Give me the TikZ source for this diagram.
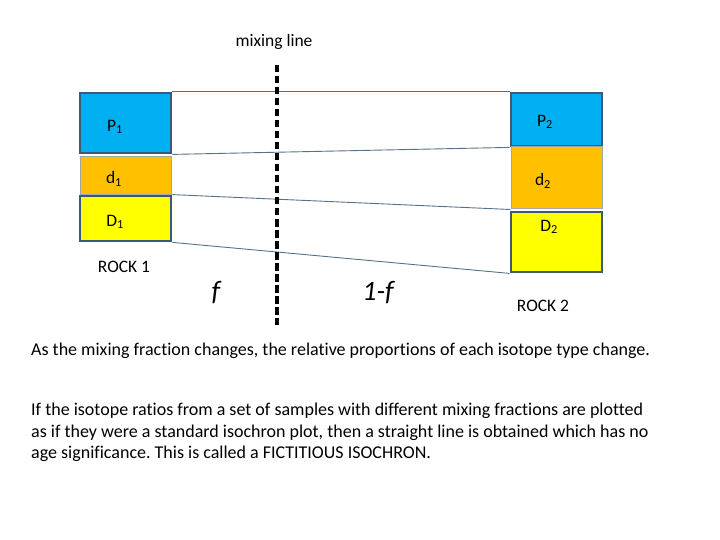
\documentclass[tikz,border=0pt]{standalone}
\usepackage{fontspec}
\setmainfont{Carlito}[Ligatures=NoCommon]
\usepackage{tikz}
\usetikzlibrary{positioning,calc}

\definecolor{pblue}{RGB}{0,176,240}
\definecolor{dorange}{RGB}{255,192,0}
\definecolor{Dyellow}{RGB}{255,255,0}
\definecolor{edge}{RGB}{60,90,120}
\definecolor{linkc}{RGB}{84,114,140}

\begin{document}
\frenchspacing
\begin{tikzpicture}[
  x=1pt, y=-1pt,
  box/.style={rectangle, draw=edge, line width=2.8pt, minimum width=91pt, inner sep=0pt},
  thinbox/.style={rectangle, draw=black!35, line width=1pt, minimum width=91pt, inner sep=0pt},
  lbl/.style={font=\fontsize{17.5}{20}\selectfont, inner sep=0pt},
  big/.style={font=\fontsize{28}{32}\selectfont\itshape, inner sep=0pt},
  txt/.style={font=\fontsize{18}{21.5}\selectfont, inner sep=0pt, align=left},
  link/.style={draw=linkc, line width=0.9pt},
  mixing/.style={line width=3.5pt, dash pattern=on 7.5pt off 3.5pt}
]
  \useasboundingbox (0,0) rectangle (720,540);
  % rock 1
  \node[box, fill=pblue, minimum height=60pt] (P1) at (125.5,123) {};
  \node[thinbox, fill=dorange, minimum height=38pt] (d1) at (125.5,176) {};
  \node[box, fill=Dyellow, minimum height=45pt] (D1) at (125.5,218.5) {};
  % rock 2
  \node[box, fill=pblue, minimum height=53pt] (P2) at (556.5,119.5) {};
  \node[thinbox, fill=dorange, minimum height=62pt] (d2) at (556.5,178) {};
  \node[box, fill=Dyellow, minimum height=60pt] (D2) at (556.5,242) {};

  \node[lbl] (P1t) at (115,127) {P\textsubscript{1}};
  \node[lbl] (d1t) at (114,179) {d\textsubscript{1}};
  \node[lbl] (D1t) at (115,222) {D\textsubscript{1}};
  \node[lbl] (P2t) at (545,122) {P\textsubscript{2}};
  \node[lbl] (d2t) at (543,181) {d\textsubscript{2}};
  \node[lbl] (D2t) at (549,227) {D\textsubscript{2}};

  \draw[link] (P1.north east) -- (P2.north west);
  \draw[link] (P1.south east) -- (P2.south west);
  \draw[link] (D1.north east) -- (d2.south west);
  \draw[link] (D1.south east) -- (D2.south west);

  \coordinate (mtop) at (277,65);
  \coordinate (mbot) at (277,325);
  \draw[mixing] (mtop) -- (mbot);

  \node[lbl] (mix) at (274,42) {mixing line};
  \node[lbl] (rock1) at (124,267) {ROCK 1};
  \node[lbl] (rock2) at (543,306) {ROCK 2};
  \node[big] (f) at (216,293) {f};
  \node[big] (onef) at (378,293) {1-f};

  \node[txt, anchor=west] (note) at (31,351)
    {As the mixing fraction changes, the relative proportions of each isotope type change.};
  \node[txt, anchor=north west] (para) at (31,403)
    {If the isotope ratios from a set of samples with different mixing fractions are plotted\\
     as if they were a standard isochron plot, then a straight line is obtained which has no\\
     age significance. This is called a FICTITIOUS ISOCHRON.};
\end{tikzpicture}
\end{document}
